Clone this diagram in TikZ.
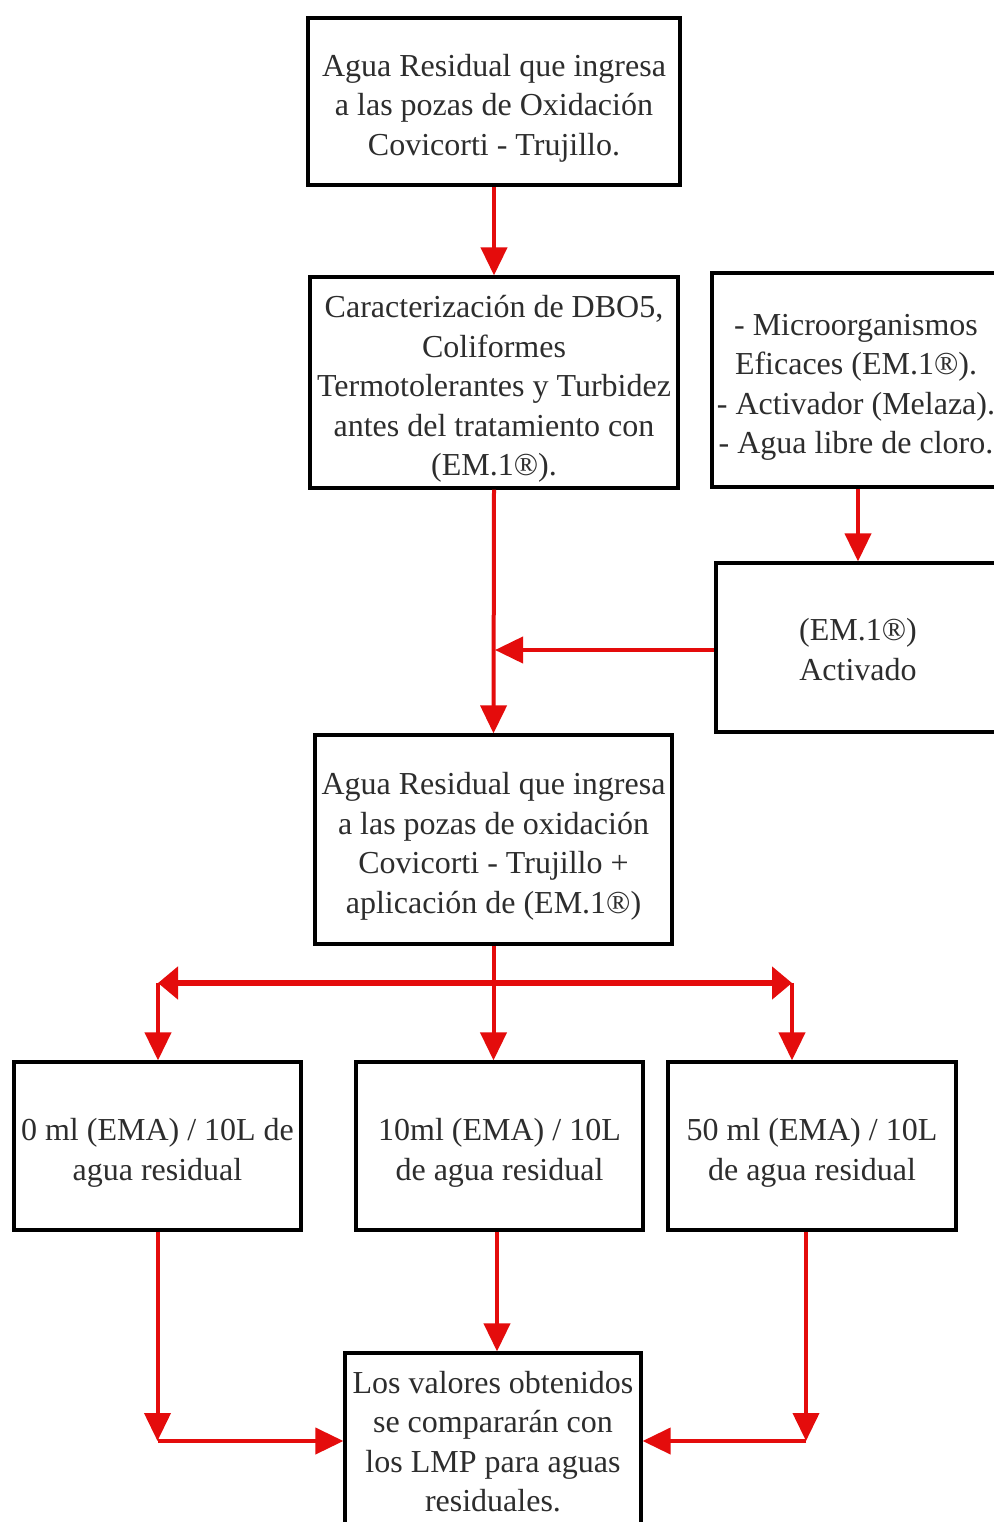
\documentclass[tikz,border=0pt]{standalone}
\usepackage{fontspec}
\setmainfont{Liberation Serif}
\usetikzlibrary{arrows.meta}
\definecolor{arr}{RGB}{228,12,12}
\definecolor{txt}{RGB}{45,45,45}
\newcommand\bt[2][-6.5pt]{\raisebox{#1}[\height][\depth]{\renewcommand\arraystretch{1}\begin{tabular}{@{}c@{}}#2\end{tabular}}}
\begin{document}
\begin{tikzpicture}[x=1pt,y=-1pt,
  box/.style={draw=black, line width=3.2pt, align=center, inner sep=0pt, fill=white,
    font=\fontsize{32}{39.5}\selectfont, text=txt},
  arrow/.style={draw=arr, line width=4pt, -{Triangle[length=28pt,width=26pt]}},
  bar/.style={draw=arr, line width=6pt, {Triangle[length=20pt,width=32pt]}-{Triangle[length=20pt,width=32pt]}}
]
\useasboundingbox (0,0) rectangle (993,1522);
\fill[white] (0,0) rectangle (993,1522);

\node[box, minimum width=372pt, minimum height=167pt] (b1) at (494,101.5)
  {\bt{Agua Residual que ingresa\\a las pozas de Oxidación\\Covicorti - Trujillo.}};
\node[box, minimum width=368pt, minimum height=211pt] (b2) at (494,382.5)
  {\bt{Caracterización de DBO5,\\Coliformes\\Termotolerantes y Turbidez\\antes del tratamiento con\\(EM.1®).}};
\node[box, minimum width=288pt, minimum height=214pt] (b3) at (856,380)
  {\bt{- Microorganismos\\Eficaces (EM.1®).\\- Activador (Melaza).\\- Agua libre de cloro.}};
\node[box, minimum width=284pt, minimum height=169pt] (b4) at (858,647.5)
  {\bt[-5pt]{(EM.1®)\\Activado}};
\node[box, minimum width=357pt, minimum height=209pt] (b5) at (493.5,839.5)
  {\bt{Agua Residual que ingresa\\a las pozas de oxidación\\Covicorti - Trujillo +\\aplicación de (EM.1®)}};
\node[box, minimum width=287pt, minimum height=168pt] (b6) at (157.5,1146)
  {\bt{0 ml (EMA) / 10L de\\agua residual}};
\node[box, minimum width=287pt, minimum height=168pt] (b7) at (499.5,1146)
  {\bt{10ml (EMA) / 10L\\de agua residual}};
\node[box, minimum width=288pt, minimum height=168pt] (b8) at (812,1146)
  {\bt{50 ml (EMA) / 10L\\de agua residual}};
\node[box, minimum width=296pt, minimum height=190pt] (b9) at (493,1448)
  {\bt[3.5pt]{Los valores obtenidos\\se compararán con\\los LMP para aguas\\residuales.}};

\coordinate (j1) at (494,650);
\coordinate (bl) at (158,983);
\coordinate (br) at (792,983);
\coordinate (cl) at (157.5,1441);
\coordinate (cr) at (806,1441);

\draw[arrow] (b1.south) -- (b2.north);
\draw[arrow] (b2.south) -- (b5.north);
\draw[arrow] (b3.south -| b4.north) -- (b4.north);
\draw[arrow] (b4.west |- j1) -- ([xshift=1pt]j1);
\draw[arrow] (b5.south) -- (b5.south |- b7.north);
\draw[bar] (bl) -- (br);
\draw[arrow] (bl) -- (bl |- b6.north);
\draw[arrow] (br) -- (br |- b8.north);
\draw[arrow] (b6.south) -- (cl);
\draw[arrow] (cl) -- (b9.west |- cl);
\draw[arrow] (b7.south -| 497,0) -- (b9.north -| 497,0);
\draw[arrow] (b8.south -| cr) -- (cr);
\draw[arrow] (cr) -- (b9.east |- cr);
\end{tikzpicture}
\end{document}
